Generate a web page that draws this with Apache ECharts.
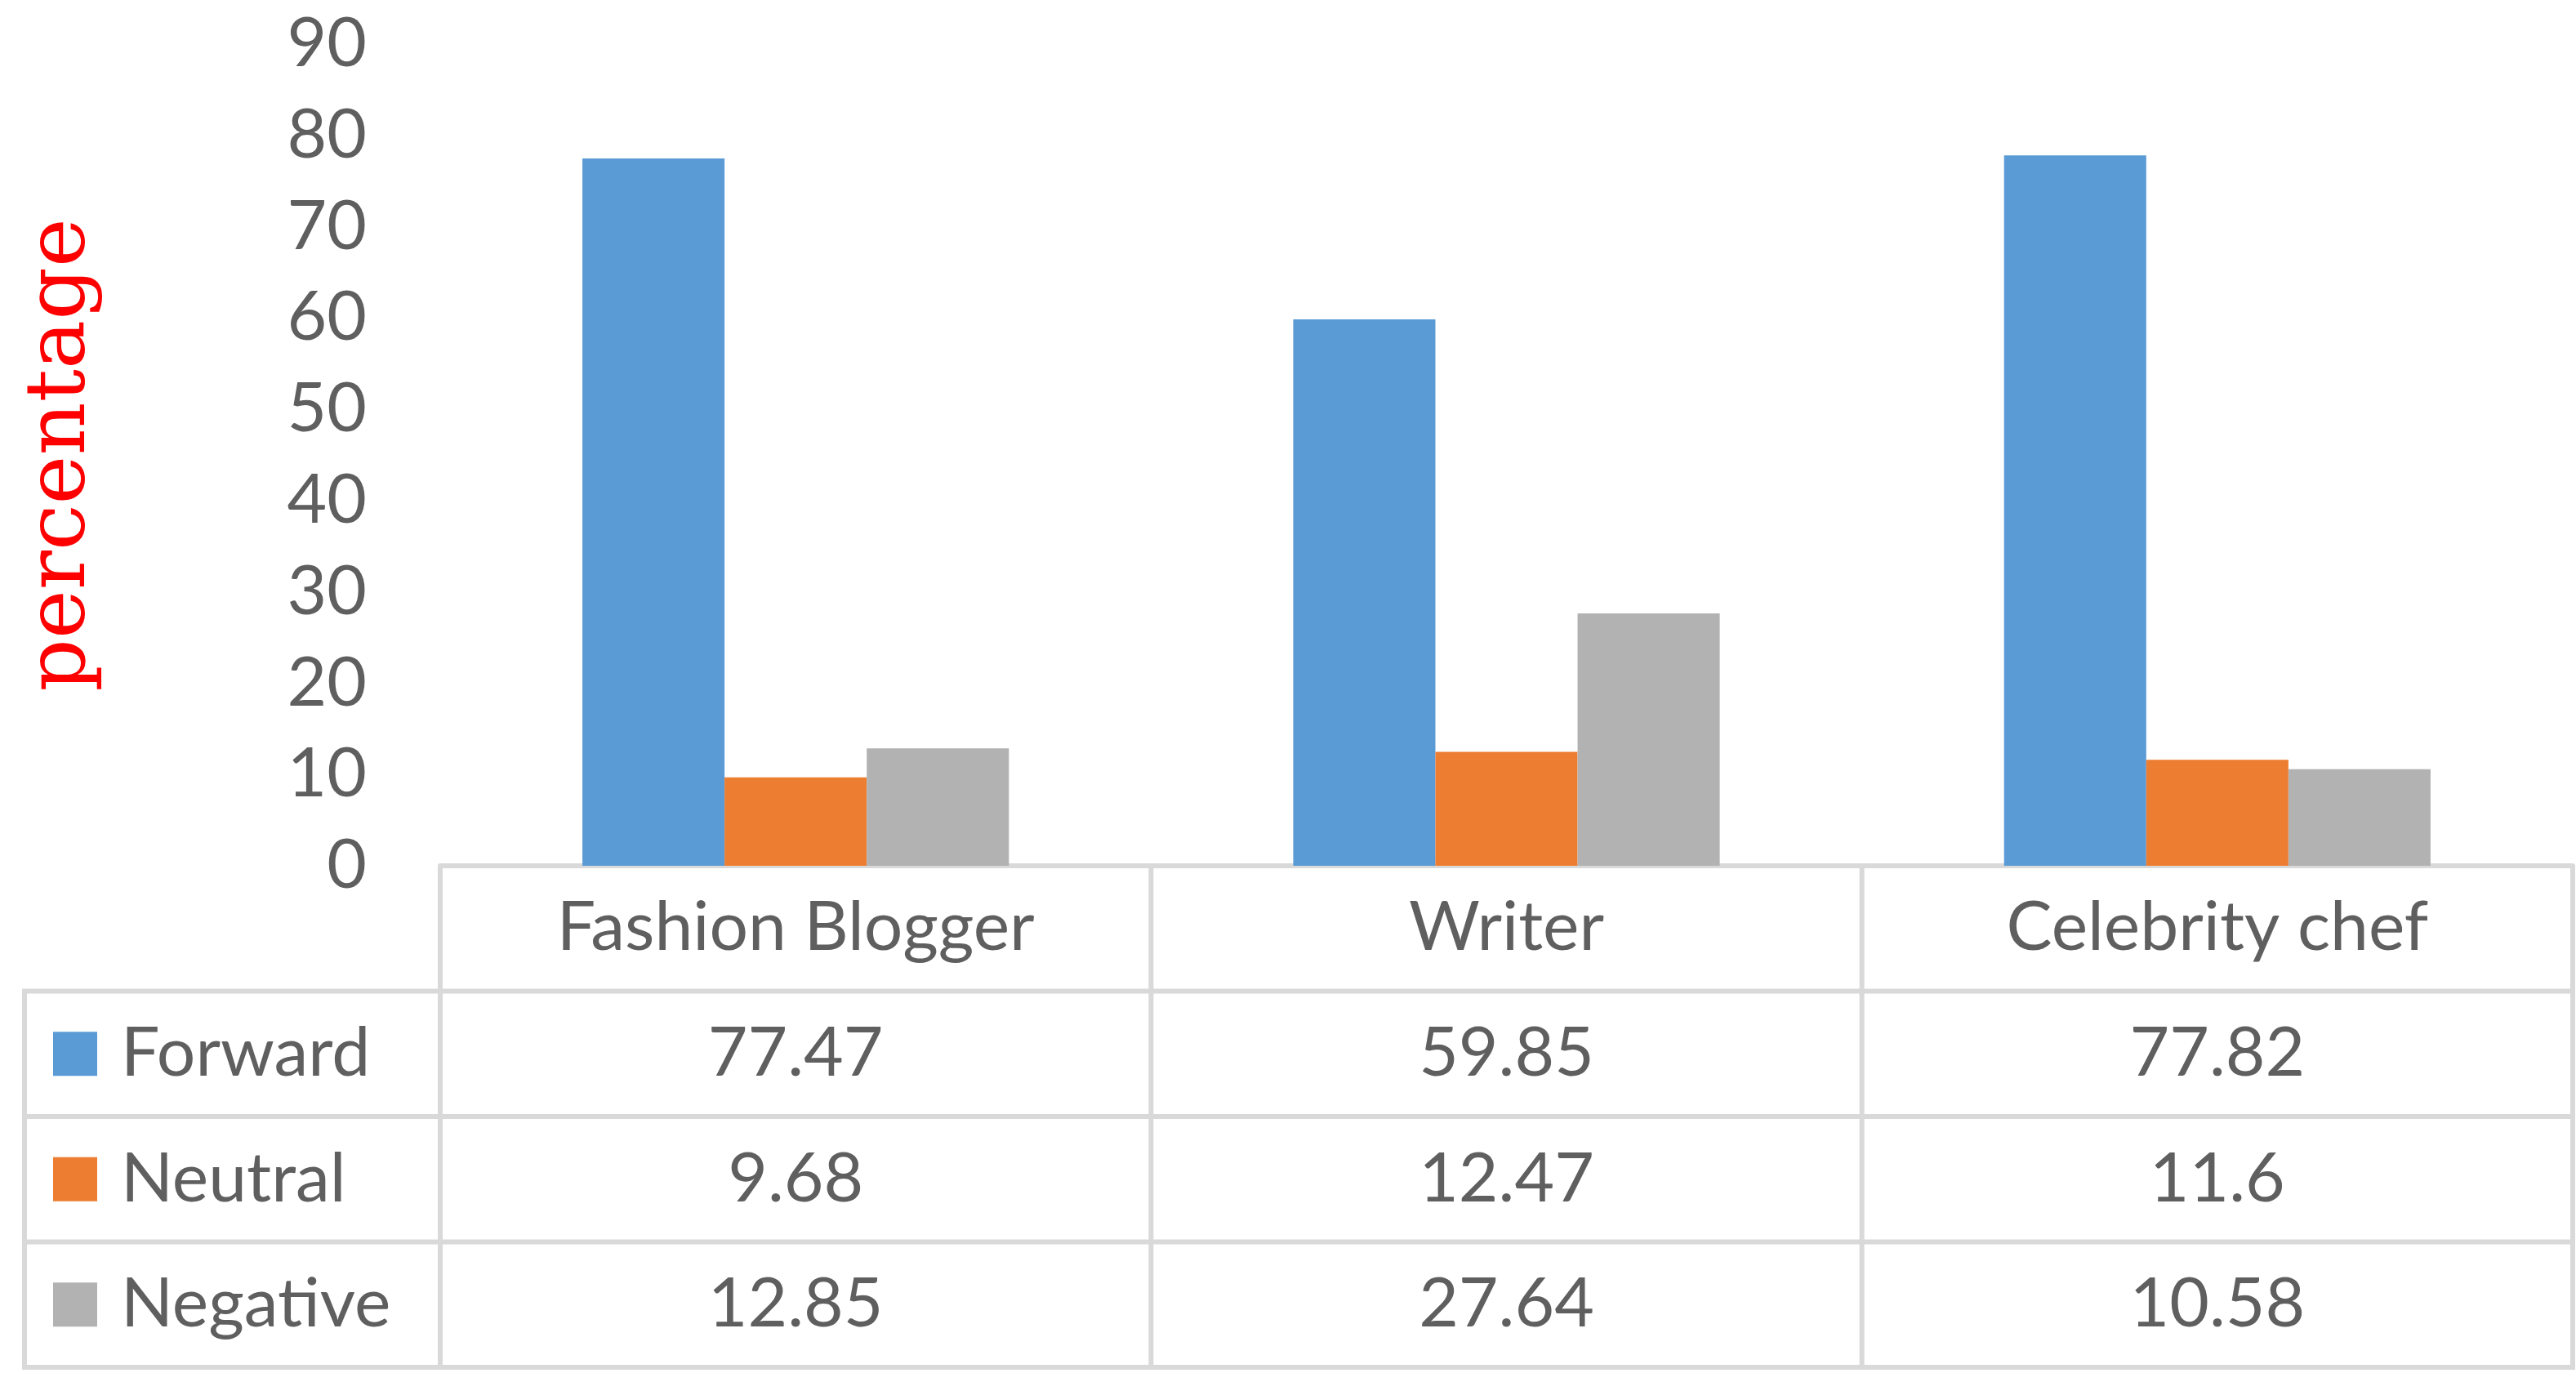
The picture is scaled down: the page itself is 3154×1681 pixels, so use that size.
<!DOCTYPE html>
<html>
<head>
<meta charset="utf-8">
<script src="https://cdn.jsdelivr.net/npm/echarts@6/dist/echarts.min.js"></script>
<style>
  html, body { margin: 0; padding: 0; background: #fff; }
  #chart { width: 3154px; height: 1681px; }
</style>
</head>
<body>
<div id="chart"></div>
<script>
// data
const categories = ['Fashion Blogger', 'Writer', 'Celebrity chef'];
const seriesNames = ['Forward', 'Neutral', 'Negative'];
const forward = [77.47, 59.85, 77.82];
const neutral = [9.68, 12.47, 11.6];
const negative = [12.85, 27.64, 10.58];
const seriesData = [forward, neutral, negative];
const colors = ['#5B9BD5', '#ED7D31', '#B2B2B2'];

const textColor = '#5f5f5f';
const lineColor = '#D9D9D9';
const fontFamily = 'Lato';
const fontSize = 84;

const chart = echarts.init(document.getElementById('chart'));

const option = {
  backgroundColor: '#fff',
  animation: false,
  grid: { left: 539, right: 4, top: 54, bottom: 621 },
  xAxis: {
    type: 'category',
    data: categories,
    axisLine: { show: true, lineStyle: { color: lineColor, width: 6 } },
    axisTick: { show: false },
    axisLabel: {
      color: textColor, fontFamily: fontFamily, fontSize: fontSize,
      margin: 34, lineHeight: fontSize
    }
  },
  yAxis: {
    type: 'value',
    min: 0, max: 90, interval: 10,
    name: 'percentage',
    nameLocation: 'middle',
    nameGap: 412,
    nameTextStyle: { color: '#FF0000', fontFamily: 'DejaVu Serif', fontSize: 101 },
    axisLine: { show: false },
    axisTick: { show: false },
    splitLine: { show: false },
    axisLabel: { color: textColor, fontFamily: fontFamily, fontSize: fontSize, margin: 90 }
  },
  series: seriesNames.map((name, i) => ({
    name: name,
    type: 'bar',
    data: seriesData[i],
    barGap: '0%',
    barCategoryGap: '40%',
    itemStyle: { color: colors[i] }
  }))
};
chart.setOption(option);

// data table under the plot, laid out from the axes
const centers = categories.map(c => chart.convertToPixel({ xAxisIndex: 0 }, c));
const band = centers[1] - centers[0];
const edges = centers.map(c => c - band / 2).concat([centers[centers.length - 1] + band / 2]);
const tableTop = chart.convertToPixel({ yAxisIndex: 0 }, 0);
const rowH = 153.5;
const tableLeft = 30;
const tableBottom = tableTop + rowH * 4;

const graphic = [];
const ls = { stroke: lineColor, lineWidth: 6 };
// horizontal lines
for (let r = 1; r <= 4; r++) {
  const y = tableTop + rowH * r;
  graphic.push({ type: 'line', shape: { x1: tableLeft - 3, y1: y, x2: edges[3] + 3, y2: y }, style: ls });
}
// vertical lines
graphic.push({ type: 'line', shape: { x1: tableLeft, y1: tableTop + rowH, x2: tableLeft, y2: tableBottom }, style: ls });
edges.forEach(x => {
  graphic.push({ type: 'line', shape: { x1: x, y1: tableTop, x2: x, y2: tableBottom }, style: ls });
});
// rows
seriesNames.forEach((name, i) => {
  const cy = tableTop + rowH * (i + 1) + rowH / 2;
  graphic.push({ type: 'rect', shape: { x: 65, y: cy - 27, width: 54, height: 54 }, style: { fill: colors[i] } });
  graphic.push({
    type: 'text', x: 148, y: cy,
    style: { text: name, fill: textColor, font: fontSize + 'px ' + fontFamily, textAlign: 'left', textVerticalAlign: 'middle' }
  });
  seriesData[i].forEach((v, j) => {
    graphic.push({
      type: 'text', x: centers[j], y: cy,
      style: { text: String(v), fill: textColor, font: fontSize + 'px ' + fontFamily, textAlign: 'center', textVerticalAlign: 'middle' }
    });
  });
});
chart.setOption({ graphic: graphic });
</script>
</body>
</html>
